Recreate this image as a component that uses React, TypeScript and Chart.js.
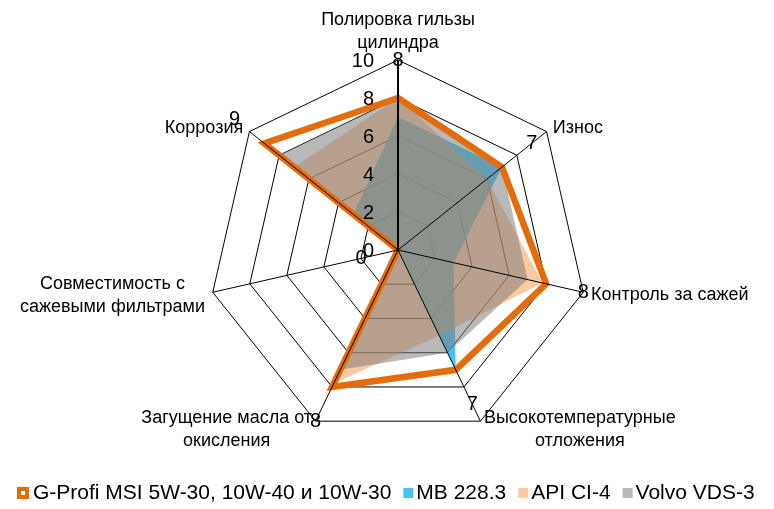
import React, { useEffect, useRef } from 'react';
import { Chart, registerables } from 'chart.js';

Chart.register(...registerables);

// ---- data ----
const categories: string[][] = [
  ['Полировка гильзы', 'цилиндра'],
  ['Износ'],
  ['Контроль за сажей'],
  ['Высокотемпературные', 'отложения'],
  ['Загущение масла от', 'окисления'],
  ['Совместимость с', 'сажевыми фильтрами'],
  ['Коррозия'],
];
const gProfi = [8, 7, 8, 7, 8, 0, 9];
const mb2283 = [7, 7, 3, 7, 0, 0, 3];
const apiCI4 = [8, 6, 7.8, 5, 7.8, 0, 7];
const volvoVDS3 = [8, 7, 7, 6, 7, 0, 8];
const tickValues = [0, 2, 4, 6, 8, 10];
const seriesNames = ['G-Profi MSI 5W-30, 10W-40 и 10W-30', 'MB 228.3', 'API CI-4', 'Volvo VDS-3'];

// ---- styles ----
const FONT = '"Liberation Sans", Arial, sans-serif';
const ORANGE = '#E46C0A';
const BLUE = 'rgba(0,176,240,0.75)';
const PEACH = 'rgba(247,150,70,0.5)';
const GRAY = 'rgba(128,128,128,0.55)';

export default function App() {
  const ref = useRef<HTMLCanvasElement>(null);

  useEffect(() => {
    document.body.style.margin = '0';
    const canvas = ref.current!;

    const overlay = {
      id: 'excelOverlay',
      afterDatasetsDraw(chart: any) {
        const s = chart.scales.r;
        const ctx = chart.ctx;
        ctx.save();
        ctx.strokeStyle = '#000';
        for (let i = 0; i < categories.length; i++) {
          const p = s.getPointPosition(i, s.drawingArea);
          ctx.lineWidth = i === 0 ? 2 : 1;
          ctx.beginPath();
          ctx.moveTo(s.xCenter, s.yCenter);
          ctx.lineTo(p.x, p.y);
          ctx.stroke();
        }
        ctx.restore();
      },
      afterDraw(chart: any) {
        const s = chart.scales.r;
        const ctx = chart.ctx;
        ctx.save();
        ctx.fillStyle = '#000';

        // value ticks
        ctx.font = `20px ${FONT}`;
        ctx.textAlign = 'right';
        ctx.textBaseline = 'middle';
        tickValues.forEach((v) => {
          const y = s.yCenter - s.getDistanceFromCenterForValue(v);
          ctx.fillText(String(v), s.xCenter - 24, y + 1);
        });

        // data labels of the first series
        ctx.textAlign = 'center';
        gProfi.forEach((v, i) => {
          const p = s.getPointPositionForValue(i, v + 2);
          ctx.fillText(String(v), p.x, p.y);
        });

        // category labels
        ctx.font = `18px ${FONT}`;
        const lh = 23;
        categories.forEach((lines, i) => {
          const a = s.getPointPosition(i, s.drawingArea + 8);
          let deg = Math.round(((a.angle + Math.PI / 2) * 180) / Math.PI) % 360;
          if (deg < 0) deg += 360;
          const w = Math.max(...lines.map((t) => ctx.measureText(t).width));
          let cx: number;
          let firstY: number;
          if (deg === 0) {
            cx = a.x;
            firstY = a.y - 9 - (lines.length - 1) * lh;
          } else {
            cx = deg < 180 ? a.x + w / 2 : a.x - w / 2;
            firstY = a.y - ((lines.length - 1) * lh) / 2 + 1;
          }
          lines.forEach((t, k) => ctx.fillText(t, cx, firstY + k * lh));
        });

        // legend
        const items = [
          { text: seriesNames[0], color: ORANGE, marker: true },
          { text: seriesNames[1], color: BLUE, marker: false },
          { text: seriesNames[2], color: PEACH, marker: false },
          { text: seriesNames[3], color: GRAY, marker: false },
        ];
        ctx.font = `21px ${FONT}`;
        ctx.textAlign = 'left';
        const cy = 493;
        let x = 17;
        items.forEach((it) => {
          if (it.marker) {
            ctx.fillStyle = it.color;
            ctx.fillRect(x, cy - 6, 12, 12);
            ctx.fillStyle = '#fff';
            ctx.fillRect(x + 4, cy - 2, 4, 4);
            x += 16;
          } else {
            ctx.fillStyle = it.color;
            ctx.fillRect(x, cy - 5, 10, 10);
            x += 13;
          }
          ctx.fillStyle = '#000';
          ctx.fillText(it.text, x, cy);
          x += ctx.measureText(it.text).width + 12;
        });
        ctx.restore();
      },
    };

    const areaDs = (label: string, data: number[], color: string, order: number) => ({
      label,
      data,
      backgroundColor: color,
      borderColor: 'rgba(0,0,0,0)',
      borderWidth: 1,
      fill: 'origin',
      pointRadius: 0,
      pointHoverRadius: 0,
      order,
    });

    const chart = new Chart(canvas, {
      type: 'radar',
      data: {
        labels: categories,
        datasets: [
          {
            label: seriesNames[0],
            data: gProfi,
            borderColor: ORANGE,
            backgroundColor: ORANGE,
            borderWidth: 6.5,
            fill: false,
            pointRadius: 0,
            pointHoverRadius: 0,
            order: 0,
          } as any,
          areaDs(seriesNames[1], mb2283, BLUE, 3),
          areaDs(seriesNames[2], apiCI4, PEACH, 2),
          areaDs(seriesNames[3], volvoVDS3, GRAY, 1),
        ],
      },
      options: {
        responsive: false,
        animation: false,
        devicePixelRatio: 1,
        layout: { padding: { left: 208, right: 186, top: 60, bottom: 69 } },
        elements: { line: { tension: 0 } },
        plugins: {
          legend: { display: false },
          tooltip: { enabled: false },
        },
        scales: {
          r: {
            min: 0,
            max: 10,
            ticks: { display: false, stepSize: 2 },
            pointLabels: { display: false },
            angleLines: { display: false },
            grid: { color: '#000', lineWidth: 1, circular: false },
          },
        },
      } as any,
      plugins: [overlay],
    });

    return () => chart.destroy();
  }, []);

  return <canvas ref={ref} width={774} height={509} style={{ display: 'block' }} />;
}
